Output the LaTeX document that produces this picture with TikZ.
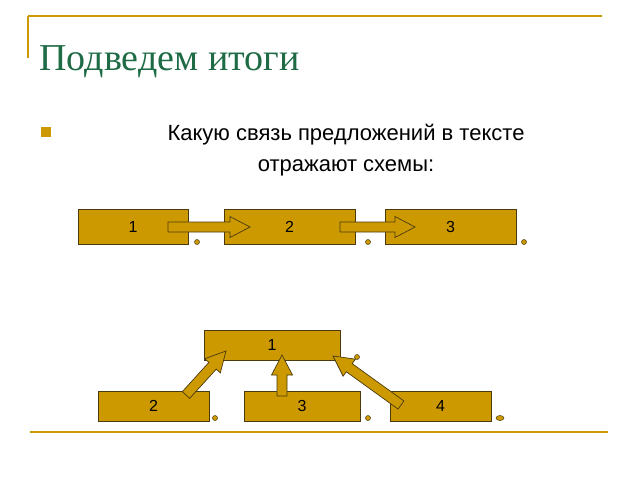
\documentclass[tikz,border=0pt]{standalone}
\usepackage{fontspec}
\setmainfont{Liberation Sans}
\newfontfamily\titlefont{Liberation Serif}
\usetikzlibrary{calc,shapes.geometric}
\definecolor{zoloto}{HTML}{CC9900}
\definecolor{kant}{HTML}{4A3A10}
\definecolor{zagolovok}{HTML}{1E6B45}
\newcommand{\strelka}[2]{%
  \coordinate (h) at ($(#2)!20pt!(#1)$);
  \filldraw[fill=zoloto,draw=kant,line width=.7pt]
    ($(#1)!5pt!90:(#2)$) -- ($(h)!5pt!-90:(#1)$) -- ($(h)!10.5pt!-90:(#1)$) -- (#2)
    -- ($(h)!10.5pt!90:(#1)$) -- ($(h)!5pt!90:(#1)$) -- ($(#1)!5pt!-90:(#2)$) -- cycle;}
\begin{document}
\begin{tikzpicture}[x=1pt,y=-1pt,
blok/.style={rectangle,fill=zoloto,draw=kant,line width=.7pt,inner sep=0pt,font=\fontsize{16}{16}\selectfont},
tochka/.style={circle,fill=zoloto,draw=kant,line width=.5pt,minimum size=5pt,inner sep=0pt}]
\useasboundingbox (0,0) rectangle (640,480);
\draw[zoloto,line width=1.2pt] (28,16) -- (602,16);
\draw[zoloto,line width=1.2pt] (28,16) -- (28,58);
\draw[zoloto,line width=1.2pt] (30,432) -- (608,432);
\node[anchor=west,text=zagolovok,font=\titlefont\fontsize{38}{38}\selectfont] (titul) at (36,62) {Подведем итоги};
\fill[zoloto] (41,127) rectangle (51,137);
\node[align=center,font=\fontsize{22}{31}\selectfont] (vopros) at (346,150) {Какую связь предложений в тексте\\отражают схемы:};
% verkhnyaya skhema
\node[blok,minimum width=110pt,minimum height=35pt] (a1) at (133,226.5) {1};
\node[blok,minimum width=131pt,minimum height=35pt] (a2) at (289.5,226.5) {2};
\node[blok,minimum width=131pt,minimum height=35pt] (a3) at (450.5,226.5) {3};
\node[tochka] (ta1) at (197,242) {};
\node[tochka] (ta2) at (368,242) {};
\node[tochka] (ta3) at (524,242) {};
\coordinate (s1) at (168,227); \coordinate (e1) at (250,227);
\coordinate (s2) at (340,227); \coordinate (e2) at (415,227);
\strelka{s1}{e1}
\strelka{s2}{e2}
% nizhnyaya skhema
\node[blok,minimum width=136pt,minimum height=30pt] (b1) at (272,345) {1};
\node[blok,minimum width=111pt,minimum height=30pt] (b2) at (153.5,406) {2};
\node[blok,minimum width=116pt,minimum height=30pt] (b3) at (302,406) {3};
\node[blok,minimum width=101pt,minimum height=30pt] (b4) at (440.5,406) {4};
\node[tochka] (tb0) at (357,357) {};
\node[tochka] (tb2) at (215,418) {};
\node[tochka] (tb3) at (368,418) {};
\node[tochka,ellipse,minimum width=8pt,minimum height=5pt] (tb4) at (500,418) {};
\coordinate (s3) at (186,395); \coordinate (e3) at (226,351);
\coordinate (s4) at (282,396); \coordinate (e4) at (282,355);
\coordinate (s5) at (401,405); \coordinate (e5) at (333,356);
\strelka{s3}{e3}
\strelka{s4}{e4}
\strelka{s5}{e5}
\end{tikzpicture}
\end{document}
